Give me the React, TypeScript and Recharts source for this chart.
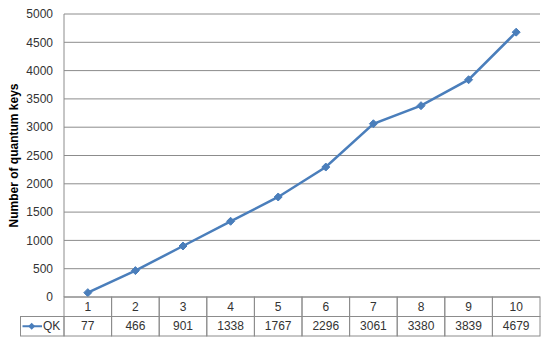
import { LineChart, Line, XAxis, YAxis, CartesianGrid } from "recharts";

const categories = ["1", "2", "3", "4", "5", "6", "7", "8", "9", "10"];
const qkValues = [77, 466, 901, 1338, 1767, 2296, 3061, 3380, 3839, 4679];
const yTicks = [0, 500, 1000, 1500, 2000, 2500, 3000, 3500, 4000, 4500, 5000];
const seriesName = "QK";

const data = categories.map((c, i) => ({ x: i + 1, label: c, qk: qkValues[i] }));

const W = 550;
const H = 345;
const LEFT = 64;
const RIGHT = 10;
const TOP = 14;
const BOTTOM = 48;
const colW = (W - LEFT - RIGHT) / categories.length;
const rowH = 19.5;
const BLUE = "#4A7EBB";
const GRID = "#8c8c8c";
const TEXT = "#333333";
const FONT = "'Liberation Sans', Arial, sans-serif";

const diamond = (cx: number, cy: number, r: number) =>
  `M${cx},${cy - r}L${cx + r},${cy}L${cx},${cy + r}L${cx - r},${cy}Z`;

function Dot(props: any) {
  const { cx, cy } = props;
  if (cx == null || cy == null) return null;
  return <path d={diamond(cx, cy, 4)} fill={BLUE} stroke={BLUE} strokeWidth={1} />;
}

function TableTick(props: any) {
  const { x, y, payload, index } = props;
  const i = payload.value - 1;
  const left = x - colW / 2;
  return (
    <g fontFamily={FONT} fontSize={12} fill={TEXT}>
      <rect x={left} y={y} width={colW} height={rowH} fill="none" stroke={GRID} />
      <rect x={left} y={y + rowH} width={colW} height={rowH} fill="none" stroke={GRID} />
      <text x={x} y={y + rowH / 2} textAnchor="middle" dominantBaseline="central" fill={TEXT}>
        {categories[i]}
      </text>
      <text x={x} y={y + rowH * 1.5} textAnchor="middle" dominantBaseline="central" fill={TEXT}>
        {qkValues[i]}
      </text>
      {index === 0 && (
        <g>
          <rect x={left - 43.5} y={y + rowH} width={43.5} height={rowH} fill="none" stroke={GRID} />
          <line x1={left - 41.5} x2={left - 22} y1={y + rowH * 1.5} y2={y + rowH * 1.5} stroke={BLUE} strokeWidth={2} />
          <path d={diamond(left - 32.3, y + rowH * 1.5, 3.5)} fill={BLUE} />
          <text x={left - 21} y={y + rowH * 1.5} dominantBaseline="central" fill={TEXT}>
            {seriesName}
          </text>
        </g>
      )}
    </g>
  );
}

function YTitle(props: any) {
  const { viewBox } = props;
  const cx = 14;
  const cy = viewBox.y + viewBox.height / 2;
  return (
    <text
      x={cx}
      y={cy}
      transform={`rotate(-90, ${cx}, ${cy})`}
      textAnchor="middle"
      dominantBaseline="central"
      fontFamily={FONT}
      fontSize={12}
      fontWeight="bold"
      fill="#000"
    >
      Number of quantum keys
    </text>
  );
}

export default function App() {
  return (
    <div style={{ position: "absolute", left: 0, top: 0, width: W, height: H, background: "#fff" }}>
      <LineChart width={W} height={H} data={data} margin={{ top: TOP, right: RIGHT, bottom: 0, left: 0 }}>
        <CartesianGrid vertical={false} stroke={GRID} strokeWidth={1} />
        <XAxis
          dataKey="x"
          type="number"
          domain={[0.5, 10.5]}
          ticks={data.map((d) => d.x)}
          interval={0}
          height={BOTTOM}
          axisLine={false}
          tickLine={false}
          tickSize={0}
          tickMargin={0}
          tick={<TableTick />}
        />
        <YAxis
          width={LEFT}
          domain={[0, 5000]}
          ticks={yTicks}
          interval={0}
          axisLine={{ stroke: GRID }}
          tickLine={false}
          tickSize={0}
          tickMargin={11}
          tick={{ fill: TEXT, fontSize: 12, fontFamily: FONT }}
          label={<YTitle />}
        />
        <Line
          type="linear"
          dataKey="qk"
          stroke={BLUE}
          strokeWidth={2.5}
          dot={<Dot />}
          activeDot={false}
          isAnimationActive={false}
        />
      </LineChart>
    </div>
  );
}
